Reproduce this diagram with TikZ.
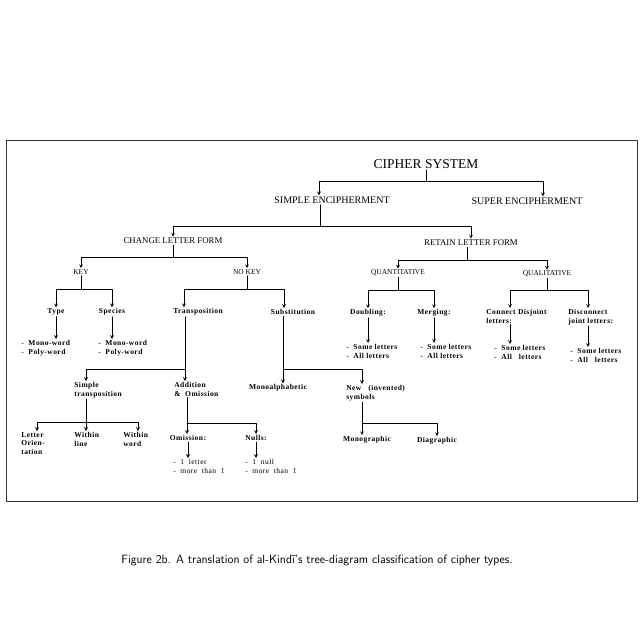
\documentclass[tikz,border=0pt]{standalone}
\usepackage{fontspec}
\setmainfont{Liberation Serif}
\newfontfamily\lowfont[LetterSpace=6]{Liberation Serif}
\begin{document}
\begin{tikzpicture}[x=1pt, y=-1pt, line width=0.7pt, line join=round, line cap=round, >=stealth,
	headtxt/.style={inner sep=1pt, font=\fontsize{13.5}{15}\selectfont},
	uptxt/.style={inner sep=1pt, font=\fontsize{10}{12}\selectfont},
	midtxt/.style={inner sep=1pt, font=\fontsize{8.8}{10}\selectfont},
	smtxt/.style={inner sep=1pt, font=\fontsize{7.4}{9}\selectfont},
	lowtxt/.style={inner sep=1pt, align=left, font=\lowfont\bfseries\fontsize{7.5}{8.5}\selectfont},
	lsttxt/.style={lowtxt, anchor=north west},
	thintxt/.style={inner sep=1pt, align=left, anchor=north west, font=\lowfont\fontsize{7.5}{8.5}\selectfont}]
	\useasboundingbox (0,0) rectangle (640,638);
	\draw[line width=0.9pt, black!80] (6,140) rectangle (637,501);
	% upper levels
	\node[headtxt] (cs) at (426,164) {CIPHER SYSTEM};
	\node[uptxt] (sim) at (332,200) {SIMPLE ENCIPHERMENT};
	\node[uptxt] (sup) at (527,201) {SUPER ENCIPHERMENT};
	\node[midtxt] (chg) at (173,241) {CHANGE LETTER FORM};
	\node[midtxt] (ret) at (471,243) {RETAIN LETTER FORM};
	\node[smtxt] (key) at (81,272) {KEY};
	\node[smtxt] (nokey) at (247,272) {NO KEY};
	\node[smtxt] (quan) at (398,273) {QUANTITATIVE};
	\node[smtxt] (qual) at (547,274) {QUALITATIVE};
	% lower levels
	\node[lowtxt] (type) at (56,312) {Type};
	\node[lowtxt] (spec) at (112,312) {Species};
	\node[lowtxt] (trans) at (198,312) {Transposition};
	\node[lowtxt] (subs) at (293,312) {Substitution};
	\node[lowtxt] (doub) at (368,313) {Doubling:};
	\node[lowtxt] (merg) at (434,313) {Merging:};
	\node[lsttxt] (con) at (485,308) {Connect Disjoint\\letters:};
	\node[lsttxt] (dis) at (567,308) {Disconnect\\joint letters:};
	\node[lsttxt] (typel) at (20,339) {-~~Mono-word\\-~~Poly-word};
	\node[lsttxt] (spcl) at (97,339) {-~~Mono-word\\-~~Poly-word};
	\node[lsttxt] (doubl) at (345,343) {-~~Some letters\\-~~All letters};
	\node[lsttxt] (mergl) at (419,343) {-~~Some letters\\-~~All letters};
	\node[lsttxt] (conl) at (493,344) {-~~Some letters\\-~~All~~~letters};
	\node[lsttxt] (disl) at (569,347) {-~~Some letters\\-~~All~~~letters};
	\node[lsttxt] (simp) at (73,381) {Simple\\transposition};
	\node[lsttxt] (add) at (173,381) {Addition\\\&~~Omission};
	\node[lowtxt] (mono) at (278,388) {Monoalphabetic};
	\node[lsttxt] (new) at (345,384) {New~~~(invented)\\symbols};
	\node[lsttxt] (letter) at (20,431) {Letter\\Orien-\\tation};
	\node[lsttxt] (wline) at (73,431) {Within\\line};
	\node[lsttxt] (wword) at (122,431) {Within\\word};
	\node[lowtxt] (omi) at (188,438) {Omission:};
	\node[lowtxt] (nul) at (256,438) {Nulls:};
	\node[lowtxt] (monog) at (367,440) {Monographic};
	\node[lowtxt] (diag) at (437,441) {Diagraphic};
	\node[thintxt] (omil) at (172,458) {-~~1~~letter\\-~~more~~than~~1};
	\node[thintxt] (nulll) at (244,458) {-~~1~~null\\-~~more~~than~~1};
	% connectors
	\draw (cs.south) -- (cs.south |- 0,181) coordinate (j1);
	\draw[->] (j1) -| ([xshift=-13pt]sim.north);
	\draw[->] (j1) -| ([xshift=16pt]sup.north);
	\draw ([xshift=-12pt]sim.south) -- ([xshift=-12pt]sim.south |- 0,226) coordinate (j2);
	\draw[->] (j2) -| (chg.north);
	\draw[->] (j2) -| (ret.north);
	\draw (chg.south) -- (chg.south |- 0,257) coordinate (j3);
	\draw[->] (j3) -| (key.north);
	\draw[->] (j3) -| (nokey.north);
	\draw ([xshift=-4pt]ret.south) -- ([xshift=-4pt]ret.south |- 0,260) coordinate (j4);
	\draw[->] (j4) -| (quan.north);
	\draw[->] (j4) -| (qual.north);
	\draw (key.south) -- (key.south |- 0,289) coordinate (j5);
	\draw[->] (j5) -| (type.north);
	\draw[->] (j5) -| (spec.north);
	\draw (nokey.south) -- (nokey.south |- 0,289) coordinate (j6);
	\draw[->] (j6) -| ([xshift=-14pt]trans.north);
	\draw[->] (j6) -| ([xshift=-9pt]subs.north);
	\draw (quan.south) -- (quan.south |- 0,290) coordinate (j7);
	\draw[->] (j7) -| (doub.north);
	\draw[->] (j7) -| (merg.north);
	\draw (qual.south) -- (qual.south |- 0,290) coordinate (j8);
	\draw[->] (j8) -| ([xshift=25pt]con.north west);
	\draw[->] (j8) -| ([xshift=21pt]dis.north west);
	% down to the lists
	\foreach \a/\b in {type/typel, spec/spcl, doub/doubl, merg/mergl, omi/omil, nul/nulll}
		\draw[->] (\a.south) -- (\a.south |- \b.north);
	\draw[->] ([xshift=25pt]con.south west) -- ([xshift=25pt]con.south west |- conl.north);
	\draw[->] ([xshift=21pt]dis.south west) -- ([xshift=21pt]dis.south west |- disl.north);
	% transposition and substitution
	\draw[->] ([xshift=-13pt]trans.south) -- ([xshift=-13pt]trans.south |- add.north);
	\coordinate (j9) at ([xshift=-13pt]trans.south |- 0,369);
	\draw[->] (j9) -| ([xshift=13pt]simp.north west);
	\draw[->] ([xshift=-10pt]subs.south) -- ([xshift=-10pt]subs.south |- mono.north);
	\coordinate (j10) at ([xshift=-10pt]subs.south |- 0,369);
	\draw[->] (j10) -| ([xshift=17pt]new.north west);
	\draw ([xshift=13pt]simp.south west) -- ([xshift=13pt]simp.south west |- 0,422) coordinate (j11);
	\draw[->] (j11) -- ([xshift=13pt]wline.north west);
	\foreach \n/\d in {letter/17, wword/16}
		\draw[->] (j11) -| ([xshift=\d pt]\n.north west);
	\draw[->] ([xshift=14pt]add.south west) -- ([xshift=14pt]add.south west |- omi.north);
	\draw[->] ([xshift=14pt]add.south west |- 0,423) -| (nul.north);
	\draw[->] ([xshift=17pt]new.south west) -- ([xshift=17pt]new.south west |- monog.north);
	\draw[->] ([xshift=17pt]new.south west |- 0,423) -| (diag.north);
	% caption
	\node[font=\sffamily\fontsize{12}{14}\selectfont] (cap) at (317,560) {Figure 2b. A translation of al-Kindī's tree-diagram classification of cipher types.};
\end{tikzpicture}
\end{document}
